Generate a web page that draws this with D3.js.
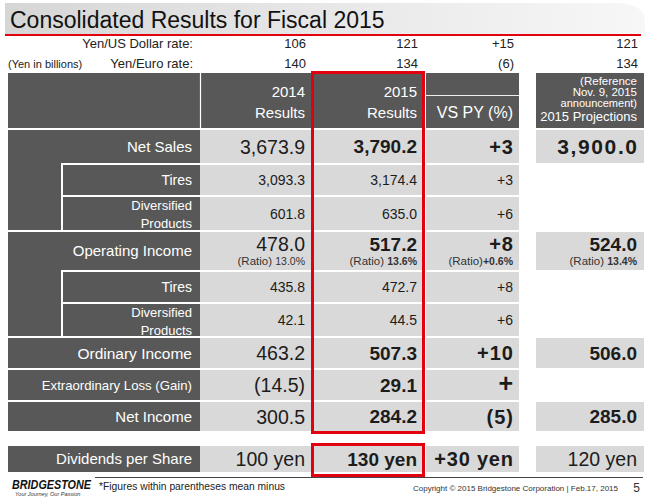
<!DOCTYPE html>
<html><head><meta charset="utf-8">
<script src="https://cdn.jsdelivr.net/npm/d3@7"></script>
<style>html,body{margin:0;padding:0;background:#fff;}svg{display:block;font-family:"Liberation Sans",Arial,Helvetica,sans-serif;}</style>
</head><body><svg id="c" width="660" height="497"></svg>
<script>
// ---------- data ----------
const title = "Consolidated Results for Fiscal 2015";
const unitNote = "(Yen in billions)";
const rateLabels = ["Yen/US Dollar rate:", "Yen/Euro rate:"];
const rateUSD = ["106", "121", "+15", "121"];
const rateEUR = ["140", "134", "(6)", "134"];
const colKeys = ["y2014", "y2015", "vs", "proj"];
const headerLines = [["2014", "Results"], ["2015", "Results"], ["VS PY (%)"],
  ["(Reference", "Nov. 9, 2015", "announcement)", "2015 Projections"]];
const rowLabels = [["Net Sales"], ["Tires"], ["Diversified", "Products"], ["Operating Income"], ["Tires"],
  ["Diversified", "Products"], ["Ordinary Income"], ["Extraordinary Loss (Gain)"], ["Net Income"], ["Dividends per Share"]];
const rowLevel = [0, 1, 1, 0, 1, 1, 0, 0, 0, 0];
const results2014 = ["3,673.9", "3,093.3", "601.8", "478.0", "435.8", "42.1", "463.2", "(14.5)", "300.5", "100 yen"];
const results2015 = ["3,790.2", "3,174.4", "635.0", "517.2", "472.7", "44.5", "507.3", "29.1", "284.2", "130 yen"];
const vsPY = ["+3", "+3", "+6", "+8", "+8", "+6", "+10", "+", "(5)", "+30 yen"];
const projections = ["3,900.0", null, null, "524.0", null, null, "506.0", null, "285.0", "120 yen"];
const ratioRow = 3;
const ratioLabel = "(Ratio)";
const ratioValues = ["13.0%", "13.6%", "+0.6%", "13.4%"];
const footnote = "*Figures within parentheses mean minus";
const copyright = "Copyright \u00A9 2015 Bridgestone Corporation | Feb.17, 2015";
const pageNo = "5";
const logoText = "BRIDGESTONE";
const logoTag = "Your Journey, Our Passion";

// ---------- layout ----------
const DARK = "#585858", LIGHT = "#d9d9d9", RED = "#e3000f", INK = "#1c1c1c";
const svg = d3.select("#c");
const rowHeights = [33, 30, 33, 38, 30, 32, 30, 30, 29, 26];
const rowGaps = [2, 2, 2, 2, 2, 2, 2, 2, 15, 0];
const tableTop = 130;
const tops = rowHeights.map((h, i) => tableTop + d3.sum(rowHeights.slice(0, i)) + d3.sum(rowGaps.slice(0, i)));
const yTop = d3.scaleOrdinal(d3.range(rowLabels.length), tops);
const yH = d3.scaleOrdinal(d3.range(rowLabels.length), rowHeights);
const colX = d3.scaleOrdinal(colKeys, [200, 312, 426, 536]);
const colW = d3.scaleOrdinal(colKeys, [112, 112, 93, 108]);
const colRight = d3.scaleOrdinal(colKeys, [305, 417, 513, 637]);
const colData = { y2014: results2014, y2015: results2015, vs: vsPY, proj: projections };
const labelLeft = 8, labelRight = 200, indentX = 63, labelTextX = 192;
const base = (cy, fs) => cy + fs * 0.36;

// ---------- title bar ----------
const defs = svg.append("defs");
const g1 = defs.append("linearGradient").attr("id", "tg").attr("x1", 0).attr("x2", 1).attr("y1", 0).attr("y2", 0);
g1.append("stop").attr("offset", "0%").attr("stop-color", "#d6d6d6");
g1.append("stop").attr("offset", "55%").attr("stop-color", "#e9e9e9");
g1.append("stop").attr("offset", "100%").attr("stop-color", "#f7f7f7");
svg.append("path").attr("d", "M5,3 H615 Q645,3 645,22 V34 H5 Z").attr("fill", "url(#tg)");
svg.append("line").attr("x1", 5).attr("x2", 641).attr("y1", 35).attr("y2", 35).attr("stroke", RED).attr("stroke-width", 2);
svg.append("text").attr("x", 10).attr("y", 28).attr("font-size", 23).attr("fill", "#111").text(title);

// ---------- exchange rates ----------
[rateUSD, rateEUR].forEach((vals, r) => {
  const by = 48 + r * 20;
  svg.append("text").attr("x", 193).attr("y", by).attr("text-anchor", "end").attr("font-size", 13).attr("fill", "#222").text(rateLabels[r]);
  colKeys.forEach((k, i) => {
    svg.append("text").attr("x", colRight(k) + 1).attr("y", by).attr("text-anchor", "end").attr("font-size", 13).attr("fill", "#222").text(vals[i]);
  });
});
svg.append("text").attr("x", 8).attr("y", 68).attr("font-size", 11).attr("fill", "#222").text(unitNote);

// ---------- header ----------
const hTop = 73, hBot = 128;
svg.append("rect").attr("x", labelLeft).attr("y", hTop).attr("width", labelRight - labelLeft).attr("height", hBot - hTop).attr("fill", DARK);
colKeys.forEach(k => {
  svg.append("rect").attr("x", colX(k)).attr("y", hTop).attr("width", colW(k)).attr("height", hBot - hTop).attr("fill", DARK);
});
svg.append("line").attr("x1", 200.5).attr("x2", 200.5).attr("y1", hTop).attr("y2", hBot).attr("stroke", "#fff").attr("stroke-width", 1.2);
svg.append("line").attr("x1", colX("vs")).attr("x2", colX("vs") + colW("vs")).attr("y1", 95.5).attr("y2", 95.5).attr("stroke", "#eee").attr("stroke-width", 1.2);
[0, 1].forEach(i => {
  const k = colKeys[i];
  svg.append("text").attr("x", colRight(k)).attr("y", 97).attr("text-anchor", "end").attr("font-size", 15).attr("fill", "#fff").text(headerLines[i][0]);
  svg.append("text").attr("x", colRight(k)).attr("y", 118).attr("text-anchor", "end").attr("font-size", 15).attr("fill", "#fff").text(headerLines[i][1]);
});
svg.append("text").attr("x", colRight("vs")).attr("y", 118).attr("text-anchor", "end").attr("font-size", 16).attr("fill", "#fff").text(headerLines[2][0]);
const projY = [85, 96, 107, 121], projFs = [11.5, 11.5, 11, 13];
headerLines[3].forEach((t, i) => {
  svg.append("text").attr("x", colRight("proj")).attr("y", projY[i]).attr("text-anchor", "end").attr("font-size", projFs[i]).attr("fill", "#fff").text(t);
});

// ---------- label column ----------
const n = rowLabels.length;
d3.range(n).forEach(i => {
  if (rowLevel[i] === 0 && rowLevel[i + 1] === 1) {
    let j = i + 1; while (rowLevel[j + 1] === 1) j++;
    svg.append("rect").attr("x", labelLeft).attr("y", yTop(i)).attr("width", indentX - 2 - labelLeft)
      .attr("height", yTop(j) + yH(j) - yTop(i)).attr("fill", DARK);
  }
});
d3.range(n).forEach(i => {
  const x0 = rowLevel[i] ? indentX : labelLeft;
  svg.append("rect").attr("x", x0).attr("y", yTop(i)).attr("width", labelRight - x0).attr("height", yH(i)).attr("fill", DARK);
  const cy = yTop(i) + yH(i) / 2;
  const lines = rowLabels[i];
  const fs = rowLevel[i] ? (lines.length > 1 ? 13 : 14) : (i === 7 ? 13.2 : (i === 6 ? 15.5 : 15));
  const step = 18;
  lines.forEach((t, li) => {
    const off = (li - (lines.length - 1) / 2) * step;
    svg.append("text").attr("x", labelTextX).attr("y", base(cy + off, fs) + (lines.length > 1 ? 1 : 0)).attr("text-anchor", "end")
      .attr("font-size", fs).attr("fill", "#fff").text(t);
  });
});

// ---------- data cells ----------
const valueStyle = (i, k) => {
  if (rowLevel[i] === 1) return { fs: 14, fw: "normal", ls: 0 };
  if (i === n - 1) {
    if (k === "y2015") return { fs: 19, fw: "bold", ls: 0 };
    if (k === "vs") return { fs: 20, fw: "bold", ls: 0.8 };
    return { fs: 19.5, fw: "normal", ls: 0 };
  }
  if (k === "y2014") return { fs: 19.5, fw: "normal", ls: 0 };
  if (k === "vs") return { fs: 20, fw: "bold", ls: 1 };
  if (k === "proj" && i === 0) return { fs: 21, fw: "bold", ls: 1.6 };
  return { fs: 19, fw: "bold", ls: 0 };
};
d3.range(n).forEach(i => {
  colKeys.forEach(k => {
    const v = colData[k][i];
    if (v === null) return;
    svg.append("rect").attr("x", colX(k)).attr("y", yTop(i)).attr("width", colW(k)).attr("height", yH(i)).attr("fill", LIGHT);
    const st = valueStyle(i, k);
    let cy = yTop(i) + yH(i) / 2;
    if (i === ratioRow) cy -= 7;
    const t = svg.append("text").attr("x", colRight(k) + st.ls).attr("y", base(cy, st.fs)).attr("text-anchor", "end")
      .attr("font-size", v === "+" ? 25 : st.fs).attr("font-weight", st.fw).attr("fill", INK).text(v);
    if (st.ls) t.attr("letter-spacing", st.ls);
  });
});
// ratio sub-lines
colKeys.forEach((k, ci) => {
  const t = svg.append("text").attr("x", colRight(k)).attr("y", yTop(ratioRow) + 33).attr("text-anchor", "end")
    .attr("fill", "#333");
  t.append("tspan").attr("font-size", 11.5).text(ratioLabel + (k === "vs" ? "" : " "));
  t.append("tspan").attr("font-size", 10.5).attr("font-weight", ci === 0 ? "normal" : "bold").text(ratioValues[ci]);
});

// ---------- red highlight boxes ----------
svg.append("rect").attr("x", 312.5).attr("y", 72.5).attr("width", 111).attr("height", 432.5 - 72.5)
  .attr("fill", "none").attr("stroke", RED).attr("stroke-width", 3);
svg.append("rect").attr("x", 312.5).attr("y", yTop(n - 1) - 1.5).attr("width", 111).attr("height", yH(n - 1) + 5)
  .attr("fill", "none").attr("stroke", RED).attr("stroke-width", 3);

// ---------- footer ----------
svg.append("line").attr("x1", 95).attr("x2", 643).attr("y1", 477.5).attr("y2", 477.5).attr("stroke", "#444").attr("stroke-width", 1);
svg.append("text").attr("x", 12).attr("y", 489 / 1.25).attr("transform", "scale(1,1.25)")
  .attr("font-size", 10.8).attr("font-weight", "bold").attr("font-style", "italic").attr("fill", "#111").text(logoText);
svg.append("text").attr("x", 15).attr("y", 496).attr("font-size", 5.5).attr("font-style", "italic").attr("fill", "#333").text(logoTag);
svg.append("text").attr("x", 99).attr("y", 490).attr("font-size", 10.3).attr("fill", "#222").text(footnote);
svg.append("text").attr("x", 413).attr("y", 491).attr("font-size", 8).attr("fill", "#333").text(copyright);
svg.append("text").attr("x", 640).attr("y", 492).attr("text-anchor", "end").attr("font-size", 12).attr("fill", "#333").text(pageNo);
</script></body></html>
